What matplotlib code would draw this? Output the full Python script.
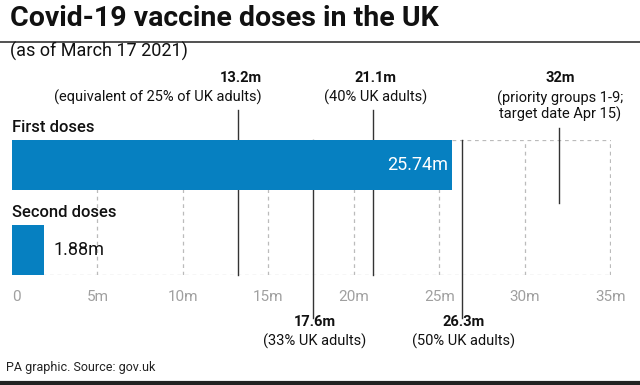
import matplotlib
matplotlib.use("Agg")
import matplotlib.pyplot as plt
import matplotlib.transforms as mtransforms
from matplotlib.lines import Line2D
from matplotlib import font_manager

# ---- data ----
categories = ["First doses", "Second doses"]
doses = [25.74, 1.88]
bar_labels = ["25.74m", "1.88m"]
ticks = [0, 5, 10, 15, 20, 25, 30, 35]
tick_labels = ["0", "5m", "10m", "15m", "20m", "25m", "30m", "35m"]
top_marks = [13.2, 21.1, 32]
top_values = ["13.2m", "21.1m", "32m"]
top_notes = ["(equivalent of 25% of UK adults)", "(40% UK adults)",
             "(priority groups 1-9;\ntarget date Apr 15)"]
bottom_marks = [17.6, 26.3]
bottom_values = ["17.6m", "26.3m"]
bottom_notes = ["(33% UK adults)", "(50% UK adults)"]

W, H = 640, 385
BLUE = "#0680c1"
names = {f.name for f in font_manager.fontManager.ttflist}
narrow = "Liberation Sans Narrow" in names
fam = ["Liberation Sans Narrow", "DejaVu Sans"] if narrow else ["Roboto", "DejaVu Sans"]
plt.rcParams["font.family"] = fam
k = 1.12 if narrow else 1.0  # size scale for the narrow font

fig = plt.figure(figsize=(W / 100, H / 100), dpi=100)
fig.patch.set_facecolor("white")

def fx(x):
    return x / W

def fy(y):
    return 1 - y / H

# axes: x 12..610.5 px, y 140..275 px
ax = fig.add_axes([fx(12), fy(275), (610.5 - 12) / W, 135 / H])
ax.set_xlim(0, 35)
ax.set_ylim(1.294, -0.294)
for s in ax.spines.values():
    s.set_visible(False)
ax.set_xticks([])
ax.set_yticks([])
ax.patch.set_alpha(0)

grid_kw = dict(color="#bbbbbb", lw=0.9, ls=(0, (3, 3)), zorder=1)
for t in ticks[1:]:
    ax.axvline(t, **grid_kw)
ax.axhline(1.294, **grid_kw)
ax.axhline(-0.294, xmin=doses[0] / 35, **grid_kw)

blend = mtransforms.blended_transform_factory(ax.transData, ax.transAxes)
tops = [(1.222, 0.0), (1.222, 0.0), (1.089, 0.533)]
for m, (y0, y1) in zip(top_marks, tops):
    ax.add_line(Line2D([m, m], [y0, y1], transform=blend, color="#333333",
                       lw=1.0, clip_on=False, zorder=2))
for m in bottom_marks:
    ax.add_line(Line2D([m, m], [1.0, -0.319], transform=blend, color="#333333",
                       lw=1.0, clip_on=False, zorder=2))

ypos = list(range(len(categories)))
ax.barh(ypos, doses, height=0.588, color=BLUE, zorder=3)

ax.text(doses[0] - 0.25, ypos[0], bar_labels[0], color="white", fontsize=13 * k,
        ha="right", va="center", zorder=4)
ax.text(doses[1] + 0.55, ypos[1], bar_labels[1], color="#111111", fontsize=13 * k,
        ha="left", va="center", zorder=4)

fig.text(fx(12), fy(128), categories[0], fontsize=12 * k, fontweight="medium",
         ha="left", va="center", color="#111111")
fig.text(fx(12), fy(213), categories[1], fontsize=12 * k, fontweight="medium",
         ha="left", va="center", color="#111111")

tblend = mtransforms.blended_transform_factory(ax.transData, fig.transFigure)
for t, lab in zip(ticks, tick_labels):
    ha = "left" if t == 0 else "center"
    ax.text(t, fy(297), lab, transform=tblend, fontsize=11 * k, color="#a0a0a0",
            ha=ha, va="center")

offsets = [24, 3, 1]
has = ["right", "center", "center"]
for m, v, n, dx, ha in zip(top_marks, top_values, top_notes, offsets, has):
    tr = tblend + mtransforms.ScaledTranslation(dx / 100, 0, fig.dpi_scale_trans)
    nlines = n.count("\n") + 1
    ycen = 97 if nlines == 1 else 106.5
    ax.text(m, fy(78), v, transform=tr, fontsize=10.5 * k, fontweight="bold",
            ha=ha, va="center", color="#111111")
    ax.text(m, fy(ycen), n, transform=tr, fontsize=10.5 * k, ha=ha,
            va="center", color="#111111", linespacing=1.1,
            multialignment="center")

for m, v, n in zip(bottom_marks, bottom_values, bottom_notes):
    tr = tblend + mtransforms.ScaledTranslation(2 / 100, 0, fig.dpi_scale_trans)
    ax.text(m, fy(322), v, transform=tr, fontsize=10.5 * k, fontweight="bold",
            ha="center", va="center", color="#111111")
    ax.text(m, fy(341), n, transform=tr, fontsize=10.5 * k,
            ha="center", va="center", color="#111111")

fig.text(fx(10), fy(18), "Covid-19 vaccine doses in the UK", fontsize=20.5 * (1.1 if narrow else 1.0),
         fontweight="bold", ha="left", va="center", color="#111111")
fig.add_artist(Line2D([0, 1], [fy(42), fy(42)], color="#333333", lw=1.2))
fig.text(fx(10), fy(51), "(as of March 17 2021)", fontsize=13 * k,
         ha="left", va="center", color="#111111")
fig.text(fx(6), fy(367), "PA graphic. Source: gov.uk", fontsize=9 * k,
         ha="left", va="center", color="#222222")
fig.add_artist(Line2D([0, 1], [fy(383), fy(383)], color="#222222", lw=3))

fig.savefig("out.png", dpi=100, facecolor="white")
